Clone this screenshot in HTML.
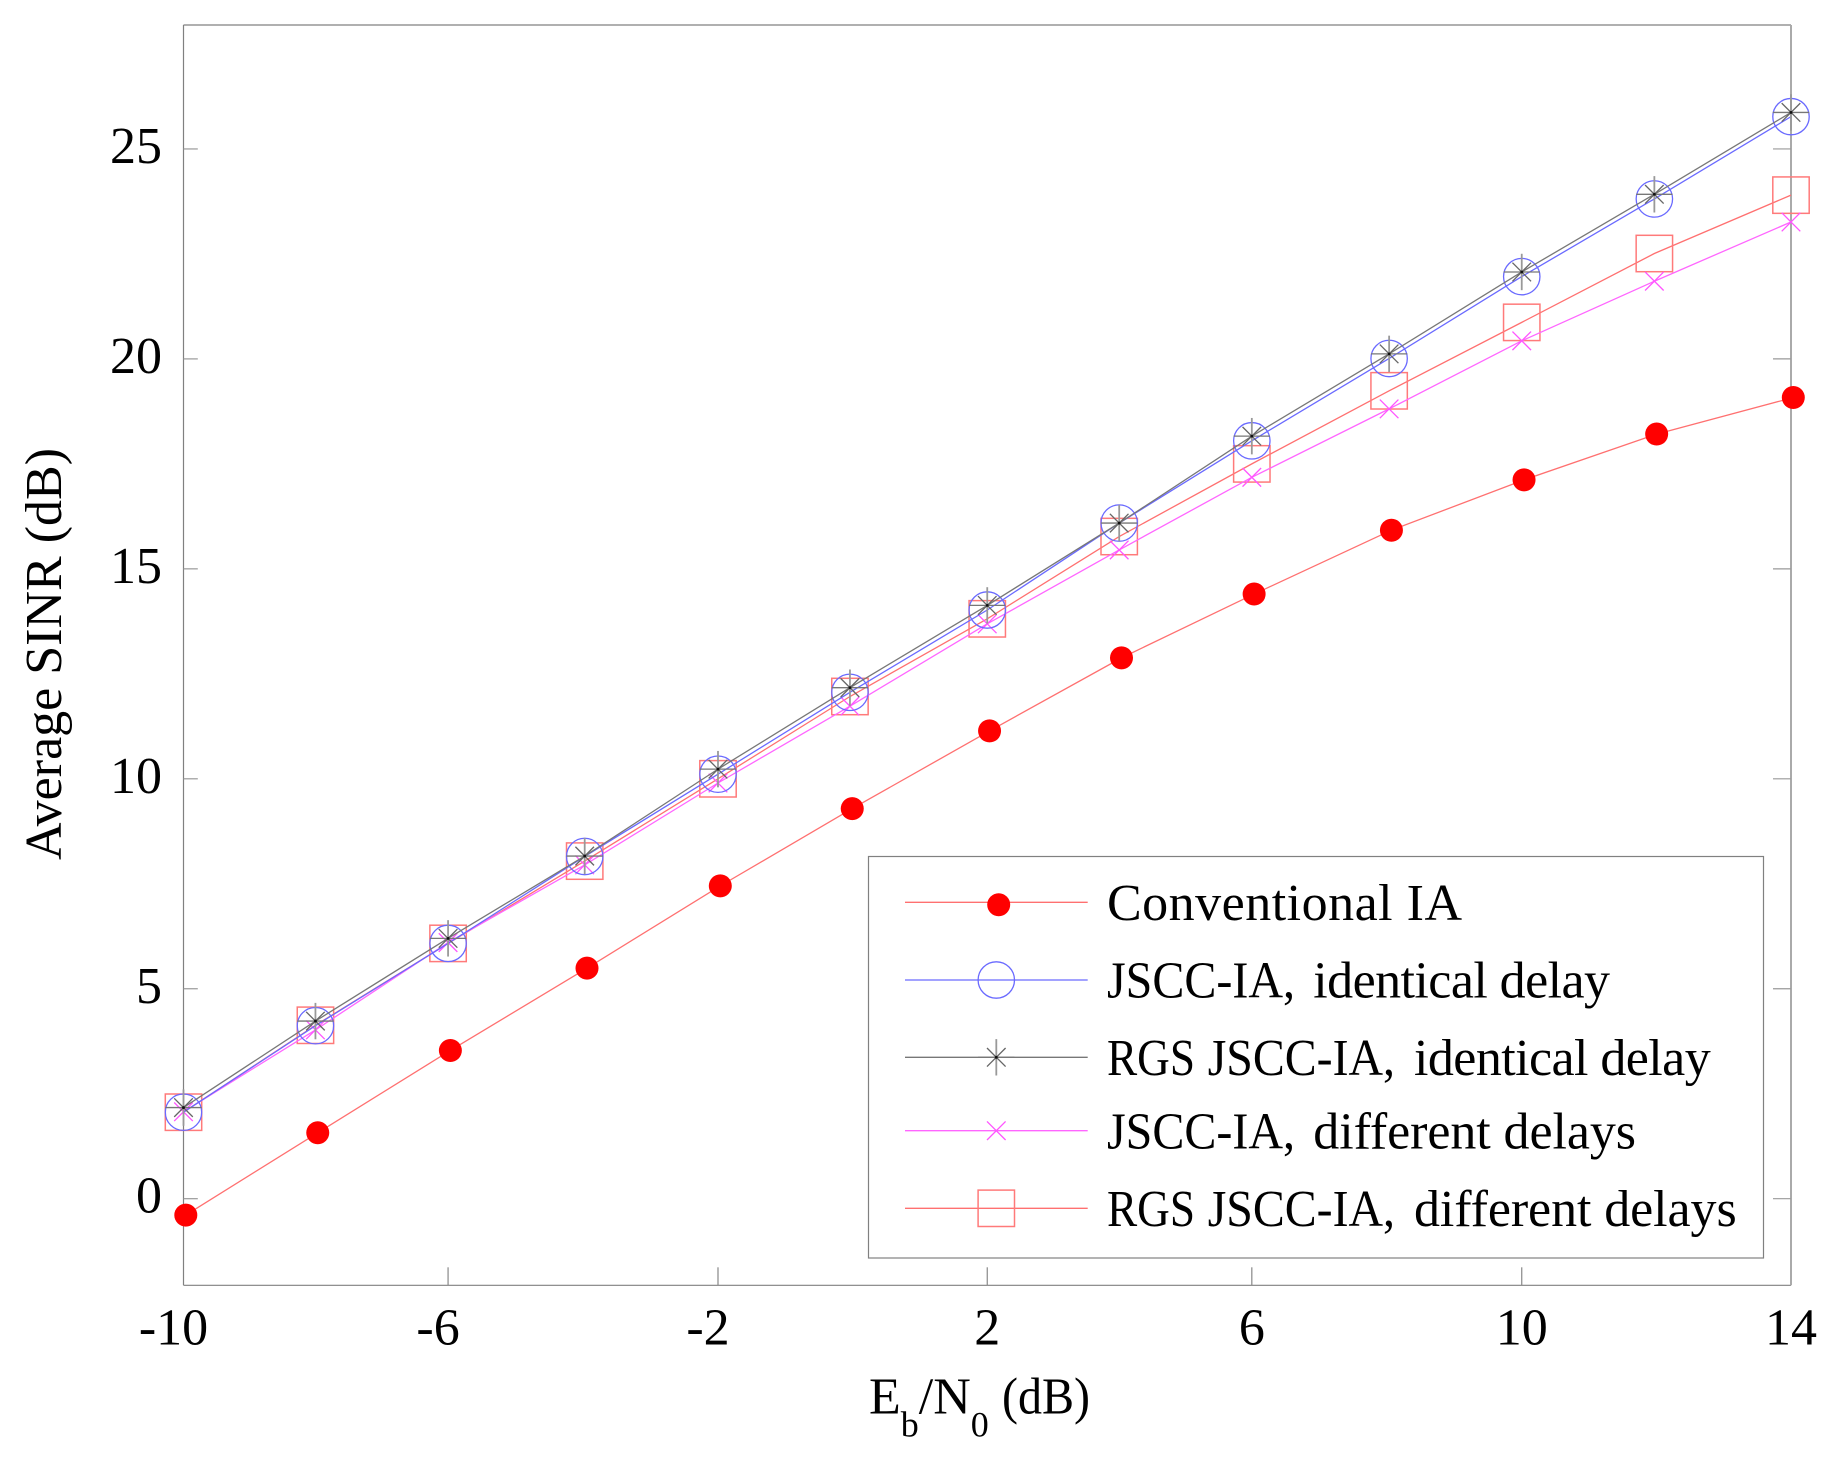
<!DOCTYPE html>
<html lang="en">
<head>
<meta charset="utf-8">
<title>Average SINR vs Eb/N0</title>
<style>
html,body{margin:0;padding:0;background:#fff;width:1840px;height:1463px;overflow:hidden}
svg{display:block}
text{font-family:"Liberation Serif",serif;fill:#000}
</style>
</head>
<body>
<svg id="chart" xmlns="http://www.w3.org/2000/svg" width="1840" height="1463" viewBox="0 0 1840 1463">
  <rect x="0" y="0" width="1840" height="1463" fill="#fff"/>
  <g id="axes"></g>
  <g id="series"></g>
  <text transform="translate(61 654) rotate(-90)" text-anchor="middle" font-size="52">Average SINR (dB)</text>
  <text x="869" y="1413.5" font-size="52">E<tspan font-size="36" dy="23">b</tspan><tspan dy="-23">/N</tspan><tspan font-size="36" dy="23">0</tspan><tspan dy="-23" x="1002"  textLength="88" lengthAdjust="spacingAndGlyphs">(dB)</tspan></text>
  <g id="legend">
    <rect x="868.5" y="856.5" width="895" height="401.5" fill="#fff" stroke="#808080" stroke-width="1.2"/>
    <text font-size="52" y="920"><tspan x="1107" textLength="355" lengthAdjust="spacing">Conventional IA</tspan></text>
    <text font-size="52" y="997.3"><tspan x="1107" textLength="188" lengthAdjust="spacingAndGlyphs">JSCC-IA,</tspan> <tspan x="1313.3" textLength="296.7" lengthAdjust="spacing">identical delay</tspan></text>
    <text font-size="52" y="1075"><tspan x="1107" textLength="88" lengthAdjust="spacingAndGlyphs">RGS</tspan> <tspan x="1207.7" textLength="187.3" lengthAdjust="spacingAndGlyphs">JSCC-IA,</tspan> <tspan x="1414" textLength="296.7" lengthAdjust="spacing">identical delay</tspan></text>
    <text font-size="52" y="1148.3"><tspan x="1107" textLength="188" lengthAdjust="spacingAndGlyphs">JSCC-IA,</tspan> <tspan x="1313.3" textLength="322.7" lengthAdjust="spacing">different delays</tspan></text>
    <text font-size="52" y="1226"><tspan x="1107" textLength="88" lengthAdjust="spacingAndGlyphs">RGS</tspan> <tspan x="1207.7" textLength="187.3" lengthAdjust="spacingAndGlyphs">JSCC-IA,</tspan> <tspan x="1414" textLength="322.7" lengthAdjust="spacing">different delays</tspan></text>
  </g>
</svg>
<script>
// Chart data
const xValues = [-10, -8.03, -6.05, -4.01, -2.02, -0.05, 2, 3.97, 5.95, 8, 9.98, 11.96, 14];
const conventionalIA = [-0.39, 1.57, 3.53, 5.49, 7.45, 9.29, 11.14, 12.88, 14.4, 15.92, 17.12, 18.21, 19.08];
const jsccIdentical = [2.06, 4.12, 6.08, 8.15, 10.11, 12.06, 14.02, 16.09, 18.05, 20.01, 21.96, 23.81, 25.77];
const rgsIdentical = [2.17, 4.23, 6.2, 8.16, 10.23, 12.17, 14.13, 16.09, 18.16, 20.12, 22.07, 23.92, 25.87];
const jsccDifferent = [2.07, 4.02, 6.1, 7.95, 9.9, 11.73, 13.69, 15.45, 17.18, 18.81, 20.43, 21.85, 23.26];
const rgsDifferent = [2.06, 4.13, 6.08, 8.04, 10, 11.96, 13.81, 15.77, 17.5, 19.24, 20.87, 22.51, 23.9];
const xTickValues = [-10, -6.05, -2.02, 2, 5.95, 9.98, 14];
const xTickLabels = ['-10', '-6', '-2', '2', '6', '10', '14'];
const yTickValues = [0, 5, 10, 15, 20, 25];
const yTickLabels = ['0', '5', '10', '15', '20', '25'];

const NS = 'http://www.w3.org/2000/svg';
const plot = { left: 183.5, right: 1791, top: 25, bottom: 1285.3 };
function xScale(v) { return plot.left + (v + 10) * (plot.right - plot.left) / 24; }
function yScale(v) { return 1198.7 - v * 41.99; }

function make(parent, tag, attrs) {
  const node = document.createElementNS(NS, tag);
  for (const k in attrs) node.setAttribute(k, attrs[k]);
  parent.appendChild(node);
  return node;
}

function drawMarker(parent, kind, cx, cy) {
  if (kind === 'dot') {
    make(parent, 'circle', { cx: cx, cy: cy, r: 11.5, fill: '#ff0000' });
  } else if (kind === 'circle') {
    make(parent, 'circle', { cx: cx, cy: cy, r: 18.2, fill: 'none', stroke: '#6a6aff', 'stroke-width': 1.3 });
  } else if (kind === 'square') {
    make(parent, 'rect', { x: cx - 18.2, y: cy - 18.2, width: 36.4, height: 36.4, fill: 'none', stroke: '#ff7a7a', 'stroke-width': 1.5 });
  } else if (kind === 'cross') {
    make(parent, 'line', { x1: cx - 9.3, y1: cy - 9.3, x2: cx + 9.3, y2: cy + 9.3, stroke: '#ff55ff', 'stroke-width': 1.3 });
    make(parent, 'line', { x1: cx - 9.3, y1: cy + 9.3, x2: cx + 9.3, y2: cy - 9.3, stroke: '#ff55ff', 'stroke-width': 1.3 });
  } else if (kind === 'star') {
    make(parent, 'line', { x1: cx, y1: cy - 18.2, x2: cx, y2: cy + 18.2, stroke: '#999', 'stroke-width': 1.8 });
    make(parent, 'line', { x1: cx - 18.2, y1: cy, x2: cx + 18.2, y2: cy, stroke: '#777', 'stroke-width': 1.3 });
    make(parent, 'line', { x1: cx - 9.3, y1: cy - 9.3, x2: cx + 9.3, y2: cy + 9.3, stroke: '#666', 'stroke-width': 1.3 });
    make(parent, 'line', { x1: cx - 9.3, y1: cy + 9.3, x2: cx + 9.3, y2: cy - 9.3, stroke: '#666', 'stroke-width': 1.3 });
    make(parent, 'circle', { cx: cx, cy: cy, r: 1.4, fill: '#111' });
  }
}

const axes = document.getElementById('axes');

const frameTop = make(axes, 'line', { x1: plot.left, y1: plot.top, x2: plot.right, y2: plot.top, stroke: '#808080', 'stroke-width': 1.2 });


const frameLeft = make(axes, 'line', { x1: plot.left, y1: plot.top, x2: plot.left, y2: plot.bottom, stroke: '#808080', 'stroke-width': 1.2 });


const frameBottom = make(axes, 'line', { x1: plot.left, y1: plot.bottom, x2: plot.right, y2: plot.bottom, stroke: '#808080', 'stroke-width': 1.2 });


const frameRight = make(axes, 'line', { x1: plot.right, y1: plot.top, x2: plot.right, y2: plot.bottom, stroke: '#aaaaaa', 'stroke-width': 2 });



yTickValues.forEach(function (v, i) {
  const y = yScale(v);
  const left = make(axes, 'line', { x1: plot.left, y1: y, x2: plot.left + 14.3, y2: y, stroke: '#999', 'stroke-width': 1.2 });
  
  
  const right = make(axes, 'line', { x1: plot.right - 18, y1: y, x2: plot.right, y2: y, stroke: '#999', 'stroke-width': 1.2 });
  
  
  const label = make(axes, 'text', { x: 162, y: y + 14, 'text-anchor': 'end', 'font-size': 52 });
  label.textContent = yTickLabels[i];
  
  
});

xTickValues.forEach(function (v, i) {
  const x = xScale(v);
  if (i > 0 && i < xTickValues.length - 1) {
    const tick = make(axes, 'line', { x1: x, y1: plot.bottom - 18, x2: x, y2: plot.bottom, stroke: '#888', 'stroke-width': 1.2 });
    
    
  }
  const shift = xTickLabels[i].charAt(0) === '-' ? -10 : 0;
  const label = make(axes, 'text', { x: x + shift, y: 1344.7, 'text-anchor': 'middle', 'font-size': 52 });
  label.textContent = xTickLabels[i];
  
  
});

const seriesLayer = document.getElementById('series');
const DOT_OFFSET = 2.3;

function drawSeries(name, values, kind, color, offset) {
  const group = make(seriesLayer, 'g', {});
  
  
  const pts = values.map(function (v, i) {
    return (xScale(xValues[i]) + offset).toFixed(2) + ',' + yScale(v).toFixed(2);
  }).join(' ');
  const line = make(group, 'polyline', { points: pts, fill: 'none', stroke: color, 'stroke-width': 1.3 });
  
  
  values.forEach(function (v, i) {
    const marker = make(group, 'g', {});
    
    
    drawMarker(marker, kind, xScale(xValues[i]) + offset, yScale(v));
  });
}

drawSeries('conventional-ia', conventionalIA, 'dot', '#ff7070', DOT_OFFSET);
drawSeries('rgs-jscc-different', rgsDifferent, 'square', '#ff7070', 0);
drawSeries('jscc-different', jsccDifferent, 'cross', '#ff66ff', 0);
drawSeries('jscc-identical', jsccIdentical, 'circle', '#6a6aff', 0);
drawSeries('rgs-jscc-identical', rgsIdentical, 'star', '#777777', 0);

const legend = document.getElementById('legend');
const legendKinds = ['dot', 'circle', 'star', 'cross', 'square'];
const legendColors = ['#ff7070', '#6a6aff', '#777777', '#ff66ff', '#ff7070'];
const legendRows = [902.3, 980, 1057.3, 1130.7, 1208.3];
legendKinds.forEach(function (kind, i) {
  const y = legendRows[i];
  const line = make(legend, 'line', { x1: 905, y1: y, x2: 1087.7, y2: y, stroke: legendColors[i], 'stroke-width': 1.3 });
  
  
  const marker = make(legend, 'g', {});
  
  
  if (kind === 'dot') {
    drawMarker(marker, kind, 998.7, y + 2.4);
  } else {
    drawMarker(marker, kind, 996.3, y);
  }
});
</script>
</body>
</html>
